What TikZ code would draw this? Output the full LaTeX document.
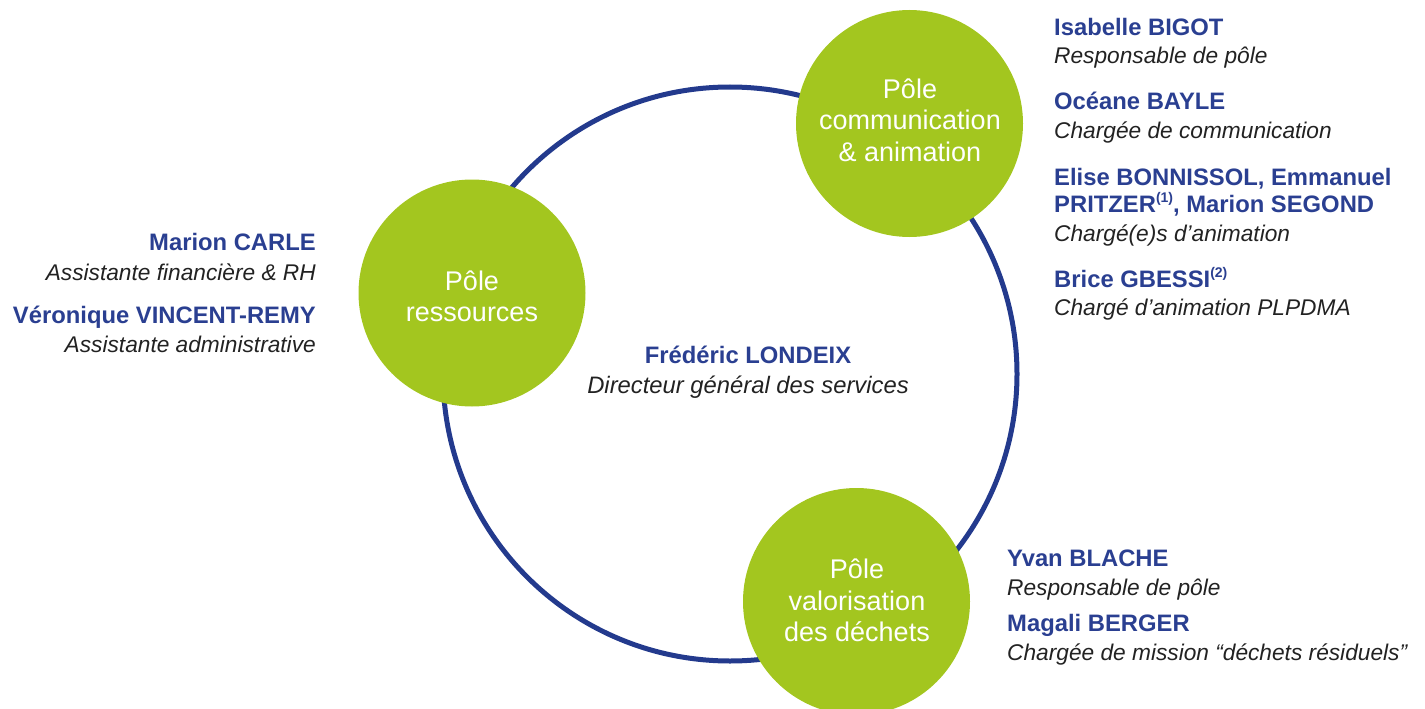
\documentclass[tikz,border=0pt]{standalone}
\usepackage{fontspec}
\setmainfont{Liberation Sans}
\definecolor{pgreen}{HTML}{A3C61F}
\definecolor{ringblue}{HTML}{233A8D}
\definecolor{nameblue}{HTML}{2A3F91}
\definecolor{roletext}{HTML}{222222}
\newcommand\supnum[1]{\raisebox{0.42em}{\fontsize{14}{14}\selectfont #1}}
\begin{document}
\begin{tikzpicture}[x=1pt,y=-1pt,
  ring/.style={circle, draw=ringblue, line width=5pt, minimum size=574pt, inner sep=0pt},
  pole/.style={circle, fill=pgreen, minimum size=227pt, inner sep=0pt},
  poletxt/.style={anchor=base, text=white, font=\fontsize{27}{27}\selectfont, inner sep=0pt},
  pname/.style={anchor=base west, text=nameblue, font=\fontsize{23.8}{24}\selectfont\bfseries, inner sep=0pt},
  prole/.style={anchor=base west, text=roletext, font=\fontsize{22.7}{24}\selectfont\itshape, inner sep=0pt},
  pnameR/.style={pname, anchor=base east},
  proleR/.style={prole, anchor=base east},
  pnameC/.style={pname, anchor=base},
  proleC/.style={prole, anchor=base, font=\fontsize{23.8}{24}\selectfont\itshape}]
\useasboundingbox (0,0) rectangle (1425,709);
% ring
\node[ring] (ring) at (730,374) {};
% green circles
\node[pole] (pcom) at (909.5,123.5) {};
\node[pole] (pres) at (472,293) {};
\node[pole] (pval) at (856.5,601.5) {};
% circle labels
\node[poletxt] (tc1) at (910,98.3) {Pôle};
\node[poletxt] (tc2) at (910,129.8) {communication};
\node[poletxt] (tc3) at (910,161.5) {\& animation};
\node[poletxt] (tr1) at (472,290) {Pôle};
\node[poletxt] (tr2) at (472,321.7) {ressources};
\node[poletxt] (tv1) at (857,578.3) {Pôle};
\node[poletxt] (tv2) at (857,610) {valorisation};
\node[poletxt] (tv3) at (857,641.7) {des déchets};
% centre
\node[pnameC] (dgsn) at (748,363.3) {Frédéric LONDEIX};
\node[proleC] (dgsr) at (748,393.3) {Directeur général des services};
% communication team
\node[pname] (c1n) at (1054,35.7) {Isabelle BIGOT};
\node[prole] (c1r) at (1054,64) {Responsable de pôle};
\node[pname] (c2n) at (1054,110) {Océane BAYLE};
\node[prole] (c2r) at (1054,138.3) {Chargée de communication};
\node[pname] (c3n) at (1054,185) {Elise BONNISSOL, Emmanuel};
\node[pname] (c3m) at (1054,212.7) {PRITZER\supnum{(1)}, Marion SEGOND};
\node[prole] (c3r) at (1054,241) {Chargé(e)s d’animation};
\node[pname] (c4n) at (1054,287.3) {Brice GBESSI\supnum{(2)}};
\node[prole] (c4r) at (1054,315) {Chargé d’animation PLPDMA};
% ressources team
\node[pnameR] (r1n) at (316,250.7) {Marion CARLE};
\node[proleR] (r1r) at (316,280) {Assistante financière \& RH};
\node[pnameR] (r2n) at (316,323.3) {Véronique VINCENT-REMY};
\node[proleR] (r2r) at (316,352.7) {Assistante administrative};
% valorisation team
\node[pname] (v1n) at (1007,566.7) {Yvan BLACHE};
\node[prole] (v1r) at (1007,595) {Responsable de pôle};
\node[pname] (v2n) at (1007,631.7) {Magali BERGER};
\node[prole] (v2r) at (1007,660) {Chargée de mission “déchets résiduels”};
\end{tikzpicture}
\end{document}
